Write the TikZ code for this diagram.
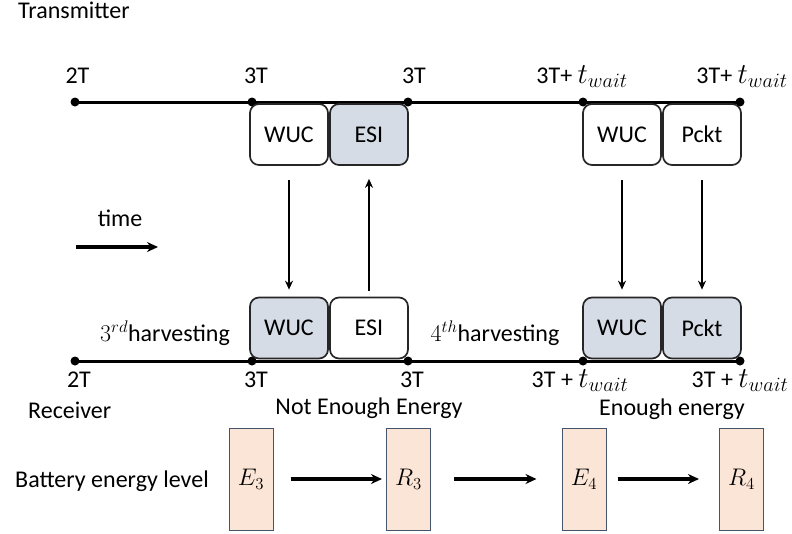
\RequirePackage{fix-cm}
\documentclass[tikz,border=0pt]{standalone}
\usepackage{fontspec}
\setmainfont{Carlito}
\usetikzlibrary{arrows.meta, positioning}
\definecolor{tgray}{HTML}{D6DCE5}
\definecolor{tpeach}{HTML}{FBE5D6}
\definecolor{tslate}{HTML}{44546A}
\definecolor{tdark}{HTML}{262626}
\newcommand{\twait}{{\fontsize{29}{32}\selectfont$t_{wait}$}}

\begin{document}
\begin{tikzpicture}[x=1pt, y=-1pt,
  every node/.style={font=\fontsize{24}{28}\selectfont},
  slot/.style={draw=tdark, line width=1.7pt, rounded corners=9pt,
    minimum width=78pt, minimum height=61pt, inner sep=0pt},
  tick/.style={circle, fill=black, inner sep=0pt, minimum size=9pt},
  cell/.style={draw=tslate, line width=1pt, fill=tpeach,
    minimum width=44pt, minimum height=102pt, inner sep=0pt},
  lbl/.style={anchor=base, inner sep=0pt},
  thin arrow/.style={-{Stealth[length=9pt,width=8pt]}, line width=1.8pt},
  thick arrow/.style={-{Stealth[length=11pt,width=10pt]}, line width=3.2pt}]
  \useasboundingbox (0,0) rectangle (792,533);

  %% ── Transmitter ───────────────────────────────────────────────────────
  \node[lbl, anchor=base west] (txlab) at (18,18) {Transmitter};
  \foreach \n/\x in {a/75, b/252, c/408, d/583, e/740}
    \node[tick] (t\n) at (\x,102) {};
  \draw[line width=3pt] (ta.center) -- (te.center);

  \foreach \x/\lab in {77.5/2T, 256/3T, 414/3T, 582/{3T+ \twait}, 742/{3T+ \twait}}
    \node[lbl] at (\x,83) {\lab};

  \node[slot, fill=white] (twucA) at (289,134.5) {WUC};
  \node[slot, fill=tgray] (tesi)  at (369,134.5) {ESI};
  \node[slot, fill=white] (twucB) at (622,134.5) {WUC};
  \node[slot, fill=white] (tpckt) at (702,134.5) {Pckt};

  %% time direction
  \node[lbl] (timelab) at (120,226) {time};
  \coordinate (tm0) at (76,247);
  \coordinate (tm1) at (158,247);
  \draw[thick arrow] (tm0) -- (tm1);

  %% ── Receiver ──────────────────────────────────────────────────────────
  \foreach \n/\x in {a/75, b/252, c/408, d/583, e/740}
    \node[tick] (r\n) at (\x,361) {};
  \draw[line width=3pt] (ra.center) -- (re.center);

  \foreach \x/\lab in {79/2T, 256/3T, 412/3T, 580/{3T + \twait}, 740/{3T + \twait}}
    \node[lbl] at (\x,387) {\lab};

  \node[slot, fill=tgray] (rwucA) at (289,328) {WUC};
  \node[slot, fill=white] (resi)  at (369,328) {ESI};
  \node[slot, fill=tgray] (rwucB) at (622,328) {WUC};
  \node[slot, fill=tgray] (rpckt) at (702,328) {Pckt};

  \node[lbl] (harvA) at (165,341) {$3^{rd}$harvesting};
  \node[lbl] (harvB) at (495,341) {$4^{th}$harvesting};

  %% signalling between the two sides
  \draw[thin arrow, shorten <=14pt, shorten >=7pt] (twucA) -- (rwucA);
  \draw[thin arrow, shorten <=6pt, shorten >=13pt] (resi) -- (tesi);
  \draw[thin arrow, shorten <=14pt, shorten >=7pt] (twucB) -- (rwucB);
  \draw[thin arrow, shorten <=14pt, shorten >=7pt] (tpckt) -- (rpckt);

  %% ── Battery ───────────────────────────────────────────────────────────
  \node[lbl, anchor=base west] (rxlab) at (28,418) {Receiver};
  \node[lbl] (notenough) at (369,414) {Not Enough Energy};
  \node[lbl] (enough) at (672,415) {Enough energy};
  \node[lbl, anchor=base west] (batlab) at (15,487) {Battery energy level};

  \node[cell] (eA) at (251,479) {$E_3$};
  \node[cell] (rA) at (408.5,479) {$R_3$};
  \node[cell] (eB) at (584,479) {$E_4$};
  \node[cell] (rB) at (741.5,479) {$R_4$};

  \draw[thick arrow, shorten <=17pt, shorten >=4pt] (eA) -- (rA);
  \draw[thick arrow, shorten <=23pt, shorten >=25pt] (rA) -- (eB);
  \draw[thick arrow, shorten <=11pt, shorten >=20pt] (eB) -- (rB);

\end{tikzpicture}
\end{document}
